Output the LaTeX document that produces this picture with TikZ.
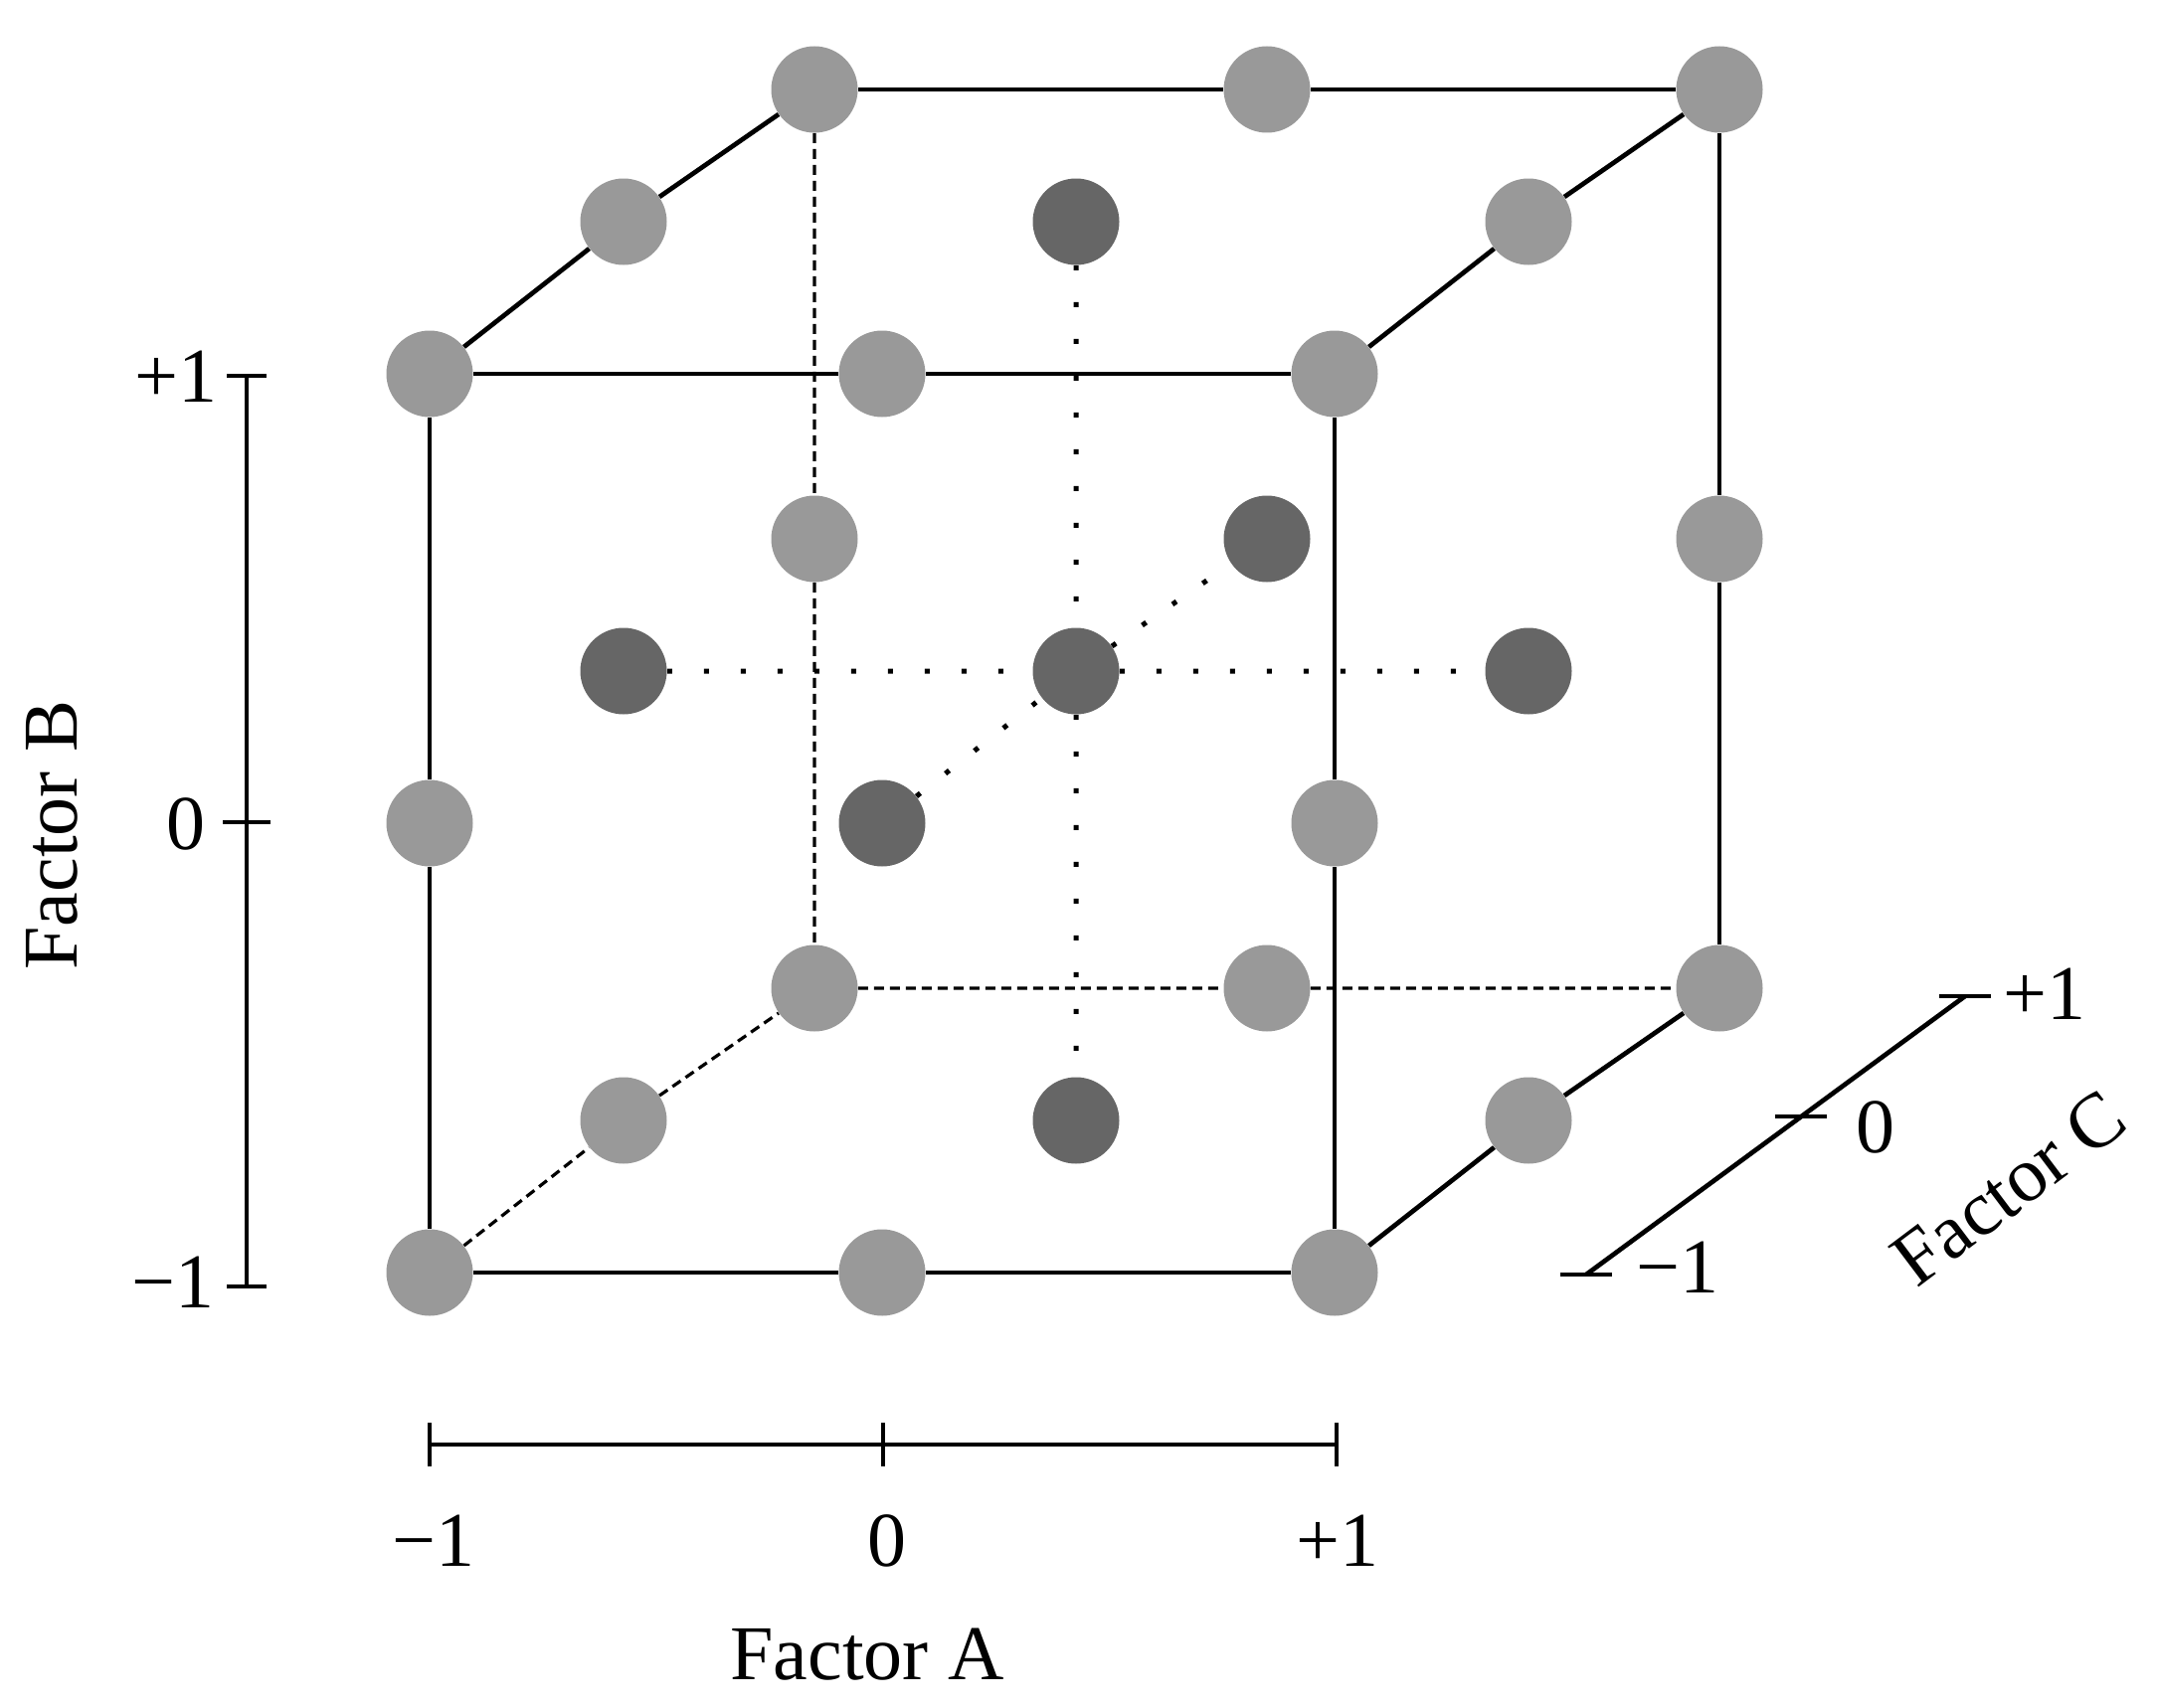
\documentclass[tikz,border=0pt]{standalone}
\usepackage{fontspec}
\setmainfont{Liberation Serif}
\definecolor{lg}{HTML}{999999}
\definecolor{dg}{HTML}{666666}
\begin{document}
\begin{tikzpicture}[x=0.5pt,y=-0.5pt,
  ball/.style={circle,inner sep=0pt,minimum size=43.5pt},
  lt/.style={ball,fill=lg},
  dk/.style={ball,fill=dg},
  cubeline/.style={line width=2.35pt},
  hiddenline/.style={line width=1.6pt,dash pattern=on 5pt off 3pt},
  dotline/.style={line width=2.5pt,dash pattern=on 2.5pt off 16pt},
  axisline/.style={line width=2.35pt},
  lab/.style={font=\fontsize{39}{46}\selectfont,inner sep=0pt}]
\useasboundingbox (0,0) rectangle (2169,1718);
% front layer
\node[lt] (FBL) at (432,1280) {};
\node[lt] (FBm) at (887,1280) {};
\node[lt] (FBR) at (1342,1280) {};
\node[lt] (FLm) at (432,828) {};
\node[dk] (Fc)  at (887,828) {};
\node[lt] (FRm) at (1342,828) {};
\node[lt] (FTL) at (432,376) {};
\node[lt] (FTm) at (887,376) {};
\node[lt] (FTR) at (1342,376) {};
% middle layer
\node[lt] (MBL) at (627,1127) {};
\node[dk] (Mbot) at (1082,1127) {};
\node[lt] (MBR) at (1537,1127) {};
\node[dk] (Mleft) at (627,675) {};
\node[dk] (Mc) at (1082,675) {};
\node[dk] (Mright) at (1537,675) {};
\node[lt] (MTL) at (627,223) {};
\node[dk] (Mtop) at (1082,223) {};
\node[lt] (MTR) at (1537,223) {};
% back layer
\node[lt] (BBL) at (819,994) {};
\node[lt] (BBm) at (1274,994) {};
\node[lt] (BBR) at (1729,994) {};
\node[lt] (BLm) at (819,542) {};
\node[dk] (Bc)  at (1274,542) {};
\node[lt] (BRm) at (1729,542) {};
\node[lt] (BTL) at (819,90) {};
\node[lt] (BTm) at (1274,90) {};
\node[lt] (BTR) at (1729,90) {};
% solid edges
\draw[cubeline] (FBL)--(FBm) (FBm)--(FBR) (FBR)--(FRm) (FRm)--(FTR)
  (FTR)--(FTm) (FTm)--(FTL) (FTL)--(FLm) (FLm)--(FBL);
\draw[cubeline] (FTL)--(MTL) (MTL)--(BTL) (FTR)--(MTR) (MTR)--(BTR)
  (FBR)--(MBR) (MBR)--(BBR);
\draw[cubeline] (BTL)--(BTm) (BTm)--(BTR) (BTR)--(BRm) (BRm)--(BBR);
% hidden edges
\draw[hiddenline] (BTL)--(BLm) (BLm)--(BBL) (BBL)--(BBm) (BBm)--(BBR)
  (FBL)--(MBL) (MBL)--(BBL);
% dotted axes through centre
\draw[dotline] (Mleft)--(Mc) (Mc)--(Mright) (Mtop)--(Mc) (Mc)--(Mbot)
  (Fc)--(Mc) (Mc)--(Bc);
% Factor B axis
\coordinate (Btop) at (248,378);
\coordinate (Bmid) at (248,827);
\coordinate (Bbot) at (248,1294);
\draw[axisline] (Btop)--(Bbot);
\draw[axisline] ([xshift=-10pt]Btop)--([xshift=10pt]Btop);
\draw[axisline] ([xshift=-12pt]Bmid)--([xshift=12pt]Bmid);
\draw[axisline] ([xshift=-10pt]Bbot)--([xshift=10pt]Bbot);
\node[lab] (Bp) at (177,379) {+1};
\node[lab] (Bz) at (187,829) {0};
\node[lab] (Bn) at (174,1290) {−1};
\node[lab,rotate=90] (Btitle) at (52,840) {Factor B};
% Factor A axis
\coordinate (Aleft) at (432,1453);
\coordinate (Amid) at (888,1453);
\coordinate (Aright) at (1344,1453);
\draw[axisline] (Aleft)--(Aright);
\draw[axisline] ([yshift=11pt]Aleft)--([yshift=-11pt]Aleft);
\draw[axisline] ([yshift=11pt]Amid)--([yshift=-11pt]Amid);
\draw[axisline] ([yshift=11pt]Aright)--([yshift=-11pt]Aright);
\node[lab] (An) at (436,1550) {−1};
\node[lab] (Az) at (892,1550) {0};
\node[lab] (Ap) at (1345,1550) {+1};
\node[lab] (Atitle) at (872,1664) {Factor A};
% Factor C axis
\coordinate (Cn) at (1595,1282);
\coordinate (Cz) at (1811,1123);
\coordinate (Cp) at (1976,1002);
\draw[axisline] (Cn)--(Cp);
\draw[axisline] ([xshift=-13pt]Cn)--([xshift=13pt]Cn);
\draw[axisline] ([xshift=-13pt]Cz)--([xshift=13pt]Cz);
\draw[axisline] ([xshift=-13pt]Cp)--([xshift=13pt]Cp);
\node[lab] (Cpl) at (2056,1000) {+1};
\node[lab] (Czl) at (1886,1134) {0};
\node[lab] (Cnl) at (1687,1275) {−1};
\node[lab,rotate=37] (Ctitle) at (2020,1195) {Factor C};
\end{tikzpicture}
\end{document}
